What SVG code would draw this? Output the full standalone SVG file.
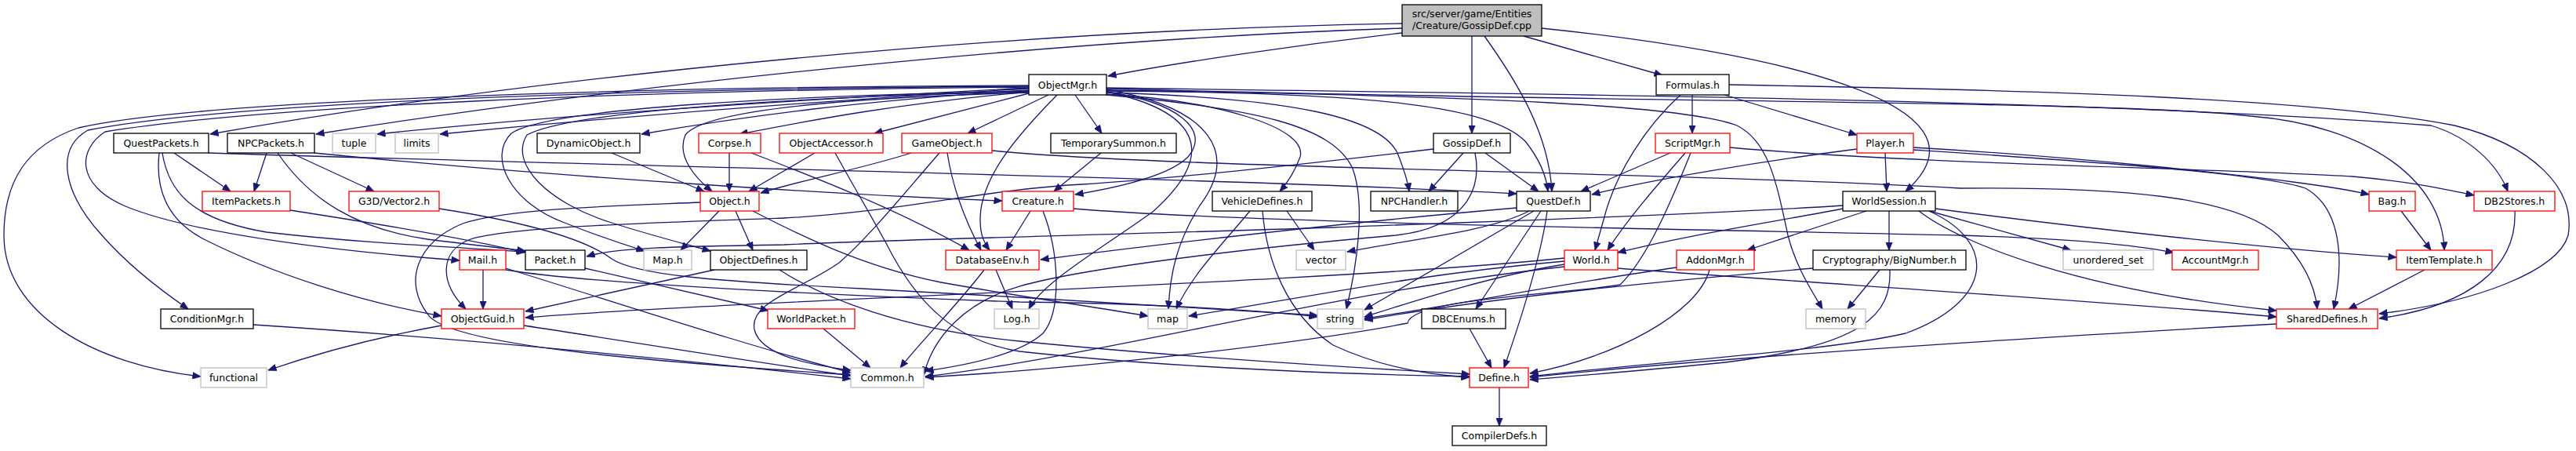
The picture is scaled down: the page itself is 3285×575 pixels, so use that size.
<svg xmlns="http://www.w3.org/2000/svg" width="3285" height="575" viewBox="0 0 3285 575">
<style>
.n rect{fill:#fff;stroke:#000;stroke-width:1.3}
.n.r rect{stroke:#ff0000}
.n.g rect{stroke:#bfbfbf}
.n.root rect{fill:#bfbfbf}
text{font-family:"DejaVu Sans","Liberation Sans",sans-serif;font-size:12.5px;text-anchor:middle;fill:#000}
#edges path{fill:none;stroke:#191970;stroke-width:1.3;marker-end:url(#a)}
</style>
<defs>
<marker id="a" viewBox="0 0 11 9" refX="10.5" refY="4.5" markerWidth="11" markerHeight="9" markerUnits="userSpaceOnUse" orient="auto">
<path d="M0,0L11,4.5L0,9z" fill="#191970" stroke="#191970" stroke-width="0.5"/>
</marker>
</defs>
<rect width="3285" height="575" fill="#fff"/>
<g id="edges">
<path d="M1788,42 C1650,58 1500,80 1413,97"/>
<path d="M1788,30 C1300,38 700,95 268,171"/>
<path d="M1788,36 C1350,50 800,108 403,171"/>
<path d="M1877,46 L1877,170"/>
<path d="M1893,46 C1935,105 1975,170 1979,244"/>
<path d="M1943,46 L2120,96"/>
<path d="M1966,36 C2250,65 2560,130 2430,244"/>
<path d="M1312,112 C1000,128 700,148 481,171"/>
<path d="M1312,113 C1050,128 800,148 561,171"/>
<path d="M1312,115 C1100,128 950,148 818,171"/>
<path d="M1312,117 C1150,132 1050,150 943,171"/>
<path d="M1312,119 L1115,170"/>
<path d="M1337,121 L1234,170"/>
<path d="M1371,121 L1405,170"/>
<path d="M1312,109 C800,111 250,128 100,163 C35,185 5,230 5,300 C5,400 120,465 256,480"/>
<path d="M1312,110 C800,113 300,130 112,166 C70,190 80,245 130,300 C165,340 205,370 240,394"/>
<path d="M1312,111 C800,115 330,136 134,168 C100,190 95,235 160,263 C250,300 450,322 586,332"/>
<path d="M1312,118 C1100,124 900,138 874,172 C862,200 888,228 908,244"/>
<path d="M1312,116 C1000,122 700,138 652,170 C622,200 650,258 720,284 C760,300 790,310 822,320"/>
<path d="M1312,117 C1000,124 730,142 672,172 C648,210 702,260 780,284 C830,300 870,310 906,320"/>
<path d="M1411,117 C1500,130 1545,165 1515,200 C1490,225 1420,240 1371,248"/>
<path d="M1348,121 C1290,180 1250,230 1250,280 C1250,300 1255,310 1262,319"/>
<path d="M1411,117 C1520,140 1560,190 1470,270 C1400,320 1330,360 1312,394"/>
<path d="M1411,114 C1545,138 1580,195 1530,262 C1500,310 1492,350 1490,394"/>
<path d="M1411,121 C1600,138 1700,160 1725,215 C1742,262 1730,340 1717,394"/>
<path d="M1411,120 C1550,128 1668,162 1658,200 C1650,222 1640,235 1632,244"/>
<path d="M1411,118 C1650,125 1760,150 1782,195 C1790,215 1795,230 1797,244"/>
<path d="M1411,116 C1750,118 1900,135 1945,180 C1965,205 1972,225 1974,244"/>
<path d="M1411,115 C1900,122 2150,135 2215,160 C2255,180 2265,230 2280,300 C2290,340 2310,370 2324,394"/>
<path d="M1411,113 C2100,132 2700,128 2870,148 C3020,160 3115,230 3117,319"/>
<path d="M1411,112 C2000,120 2700,128 3100,160 C3150,175 3185,210 3198,244"/>
<path d="M2158,121 L2158,170"/>
<path d="M2199,121 L2368,172"/>
<path d="M2143,121 C2100,160 2060,220 2045,280 L2034,319"/>
<path d="M2205,108 C2600,115 2950,125 3130,160 C3230,185 3285,240 3275,300 C3262,345 3160,385 3034,400"/>
<path d="M2130,195 L2016,244"/>
<path d="M2149,195 C2110,240 2075,280 2050,319"/>
<path d="M2156,195 C2130,260 2100,330 2066,363 C2000,375 1800,380 1795,412 C1650,440 1350,472 1180,481"/>
<path d="M2206,188 C2450,210 2850,215 3000,225 C3080,232 3120,242 3155,249"/>
<path d="M2404,195 L2406,244"/>
<path d="M2368,190 C2250,205 2100,230 2030,248"/>
<path d="M2440,188 C2650,200 2850,222 2924,232 C2970,238 3000,243 3021,248"/>
<path d="M2440,191 C2650,205 2880,220 2940,240 C2985,265 2990,330 2976,394"/>
<path d="M2409,269 L2409,319"/>
<path d="M2380,269 L2228,319"/>
<path d="M2350,266 C2250,285 2150,300 2063,322"/>
<path d="M2460,269 L2641,319"/>
<path d="M2468,266 C2650,290 2900,318 3056,328"/>
<path d="M2447,269 C2500,310 2650,370 2903,396"/>
<path d="M2350,262 C2150,275 1900,282 1700,290 C1400,300 1150,305 1000,312 C900,314 790,314 748,327"/>
<path d="M2460,269 C2550,310 2540,385 2430,425 C2330,448 2100,462 1951,480"/>
<path d="M1995,333 C1800,350 1650,382 1516,403"/>
<path d="M1995,337 C1900,352 1800,385 1740,404"/>
<path d="M1995,329 C1700,360 900,385 670,405"/>
<path d="M1995,340 C1700,372 1400,455 1180,480"/>
<path d="M2063,342 C2300,360 2700,385 2903,404"/>
<path d="M2138,341 C2000,360 1850,390 1740,406"/>
<path d="M2180,344 C2165,400 2060,455 1951,476"/>
<path d="M2397,344 L2356,394"/>
<path d="M2410,344 C2412,400 2380,440 2200,462 C2100,472 2000,480 1951,484"/>
<path d="M2312,342 C2100,360 1900,380 1740,408"/>
<path d="M1934,265 C1700,285 1450,315 1327,331"/>
<path d="M1950,269 C1900,295 1800,305 1718,321"/>
<path d="M1956,269 L1740,395"/>
<path d="M1965,269 L1882,394"/>
<path d="M1973,269 C1965,330 1935,420 1918,469"/>
<path d="M1866,195 L1822,244"/>
<path d="M1894,195 L1962,244"/>
<path d="M1828,190 C1700,205 1500,228 1380,235 C1250,242 1150,270 1000,278 C800,285 650,290 600,305 C560,320 560,360 594,394"/>
<path d="M1881,195 C1890,240 1870,290 1780,300 C1550,320 1370,345 1300,365 C1230,385 1190,430 1178,478"/>
<path d="M930,195 L930,244"/>
<path d="M958,195 C1050,230 1150,270 1236,319"/>
<path d="M1039,195 L955,244"/>
<path d="M1065,195 C1090,240 1105,265 1130,310 C1170,390 1220,435 1300,448 C1500,470 1750,478 1874,480"/>
<path d="M780,195 L898,244"/>
<path d="M1162,195 C1100,215 1020,230 970,246"/>
<path d="M1208,195 C1215,240 1230,280 1251,319"/>
<path d="M1198,195 C1150,250 1110,300 1070,335 C1020,370 955,385 962,420 C970,455 1040,466 1085,472"/>
<path d="M1265,192 C1500,215 2100,218 2500,240 C2700,238 2850,250 2905,300 C2935,330 2952,360 2955,394"/>
<path d="M1404,195 L1344,244"/>
<path d="M1594,269 C1560,310 1520,350 1500,394"/>
<path d="M1641,269 L1676,319"/>
<path d="M1610,269 C1615,330 1640,400 1700,440 C1760,468 1820,478 1874,481"/>
<path d="M1314,269 L1283,319"/>
<path d="M1330,269 C1350,320 1355,395 1330,425 C1300,452 1230,466 1180,473"/>
<path d="M1369,266 C1600,285 2200,293 2500,300 C2650,305 2720,312 2772,322"/>
<path d="M616,344 L616,394"/>
<path d="M645,342 C800,390 950,440 1085,475"/>
<path d="M645,344 C750,362 1100,378 1300,385 C1450,386 1600,395 1680,404"/>
<path d="M746,342 L980,396"/>
<path d="M911,344 L670,397"/>
<path d="M994,344 C1050,380 1150,420 1300,435 C1500,455 1750,470 1874,477"/>
<path d="M668,415 C800,435 950,460 1085,479"/>
<path d="M563,415 C480,430 400,452 342,472"/>
<path d="M323,414 C600,432 900,462 1085,483"/>
<path d="M1050,419 L1110,469"/>
<path d="M1270,344 L1291,394"/>
<path d="M1255,344 C1220,390 1170,440 1148,469"/>
<path d="M917,269 L868,319"/>
<path d="M938,269 L960,319"/>
<path d="M893,258 C800,262 650,265 590,285 C530,310 515,360 545,400 C570,445 900,465 1085,478"/>
<path d="M960,269 C1020,300 1100,340 1200,360 C1300,378 1400,392 1464,403"/>
<path d="M560,266 C650,280 740,300 780,330 C810,350 900,358 1100,368 C1300,378 1550,395 1680,402"/>
<path d="M222,195 L294,244"/>
<path d="M207,195 C215,245 245,280 340,296 C460,310 580,315 670,321"/>
<path d="M203,195 C198,240 212,280 260,305 C350,350 460,385 563,403"/>
<path d="M266,195 C800,212 1600,228 1934,247"/>
<path d="M340,195 L324,244"/>
<path d="M371,195 L477,244"/>
<path d="M354,195 C395,255 455,292 545,305 C600,312 640,316 670,320"/>
<path d="M401,195 C700,225 1100,250 1278,256"/>
<path d="M370,268 C480,285 600,305 669,322"/>
<path d="M1874,419 L1902,469"/>
<path d="M1912,494 L1912,543"/>
<path d="M2903,413 C2600,430 2200,455 1951,481"/>
<path d="M3092,344 L2995,394"/>
<path d="M3062,269 L3100,319"/>
<path d="M3207,269 C3210,340 3150,390 3034,406"/>
</g>
<g id="n_root" class="n root"><rect x="1788" y="6" width="178" height="40"/><text x="1877" y="22">src/server/game/Entities</text><text x="1877" y="37">/Creature/GossipDef.cpp</text></g>
<g id="n_ObjectMgr" class="n"><rect x="1312" y="95" width="99" height="26"/><text x="1361.5" y="112.5">ObjectMgr.h</text></g>
<g id="n_Formulas" class="n"><rect x="2112" y="95" width="93" height="26"/><text x="2158.5" y="112.5">Formulas.h</text></g>
<g id="n_QuestPackets" class="n"><rect x="145" y="170" width="121" height="25"/><text x="205.5" y="187">QuestPackets.h</text></g>
<g id="n_NPCPackets" class="n"><rect x="290" y="170" width="111" height="25"/><text x="345.5" y="187">NPCPackets.h</text></g>
<g id="n_tuple" class="n g"><rect x="424" y="170" width="55" height="25"/><text x="451.5" y="187">tuple</text></g>
<g id="n_limits" class="n g"><rect x="504" y="170" width="55" height="25"/><text x="531.5" y="187">limits</text></g>
<g id="n_DynamicObject" class="n"><rect x="685" y="170" width="131" height="25"/><text x="750.5" y="187">DynamicObject.h</text></g>
<g id="n_Corpse" class="n r"><rect x="891" y="170" width="79" height="25"/><text x="930.5" y="187">Corpse.h</text></g>
<g id="n_ObjectAccessor" class="n r"><rect x="994" y="170" width="132" height="25"/><text x="1060" y="187">ObjectAccessor.h</text></g>
<g id="n_GameObject" class="n r"><rect x="1150" y="170" width="115" height="25"/><text x="1207.5" y="187">GameObject.h</text></g>
<g id="n_TemporarySummon" class="n"><rect x="1340" y="170" width="160" height="25"/><text x="1420" y="187">TemporarySummon.h</text></g>
<g id="n_GossipDef" class="n"><rect x="1828" y="170" width="98" height="25"/><text x="1877" y="187">GossipDef.h</text></g>
<g id="n_ScriptMgr" class="n r"><rect x="2111" y="170" width="95" height="25"/><text x="2158.5" y="187">ScriptMgr.h</text></g>
<g id="n_Player" class="n r"><rect x="2368" y="170" width="72" height="25"/><text x="2404" y="187">Player.h</text></g>
<g id="n_ItemPackets" class="n r"><rect x="258" y="244" width="112" height="25"/><text x="314" y="261">ItemPackets.h</text></g>
<g id="n_Vector2" class="n r"><rect x="445" y="244" width="115" height="25"/><text x="502.5" y="261">G3D/Vector2.h</text></g>
<g id="n_Object" class="n r"><rect x="893" y="244" width="75" height="25"/><text x="930.5" y="261">Object.h</text></g>
<g id="n_Creature" class="n r"><rect x="1278" y="244" width="91" height="25"/><text x="1323.5" y="261">Creature.h</text></g>
<g id="n_VehicleDefines" class="n"><rect x="1546" y="244" width="127" height="25"/><text x="1609.5" y="261">VehicleDefines.h</text></g>
<g id="n_NPCHandler" class="n"><rect x="1748" y="244" width="111" height="25"/><text x="1803.5" y="261">NPCHandler.h</text></g>
<g id="n_QuestDef" class="n"><rect x="1934" y="244" width="94" height="25"/><text x="1981" y="261">QuestDef.h</text></g>
<g id="n_WorldSession" class="n"><rect x="2350" y="244" width="118" height="25"/><text x="2409" y="261">WorldSession.h</text></g>
<g id="n_Bag" class="n r"><rect x="3021" y="244" width="59" height="25"/><text x="3050.5" y="261">Bag.h</text></g>
<g id="n_DB2Stores" class="n r"><rect x="3155" y="244" width="103" height="25"/><text x="3206.5" y="261">DB2Stores.h</text></g>
<g id="n_Mail" class="n r"><rect x="586" y="319" width="59" height="25"/><text x="615.5" y="336">Mail.h</text></g>
<g id="n_Packet" class="n"><rect x="670" y="319" width="76" height="25"/><text x="708" y="336">Packet.h</text></g>
<g id="n_Map" class="n g"><rect x="821" y="319" width="61" height="25"/><text x="851.5" y="336">Map.h</text></g>
<g id="n_ObjectDefines" class="n"><rect x="906" y="319" width="123" height="25"/><text x="967.5" y="336">ObjectDefines.h</text></g>
<g id="n_DatabaseEnv" class="n r"><rect x="1206" y="319" width="119" height="25"/><text x="1265.5" y="336">DatabaseEnv.h</text></g>
<g id="n_vector" class="n g"><rect x="1653" y="319" width="63" height="25"/><text x="1684.5" y="336">vector</text></g>
<g id="n_World" class="n r"><rect x="1995" y="319" width="68" height="25"/><text x="2029" y="336">World.h</text></g>
<g id="n_AddonMgr" class="n r"><rect x="2138" y="319" width="99" height="25"/><text x="2187.5" y="336">AddonMgr.h</text></g>
<g id="n_BigNumber" class="n"><rect x="2312" y="319" width="195" height="25"/><text x="2409.5" y="336">Cryptography/BigNumber.h</text></g>
<g id="n_unordered_set" class="n g"><rect x="2631" y="319" width="115" height="25"/><text x="2688.5" y="336">unordered_set</text></g>
<g id="n_AccountMgr" class="n r"><rect x="2770" y="319" width="110" height="25"/><text x="2825" y="336">AccountMgr.h</text></g>
<g id="n_ItemTemplate" class="n r"><rect x="3056" y="319" width="122" height="25"/><text x="3117" y="336">ItemTemplate.h</text></g>
<g id="n_ConditionMgr" class="n"><rect x="205" y="394" width="118" height="25"/><text x="264" y="411">ConditionMgr.h</text></g>
<g id="n_ObjectGuid" class="n r"><rect x="563" y="394" width="105" height="25"/><text x="615.5" y="411">ObjectGuid.h</text></g>
<g id="n_WorldPacket" class="n r"><rect x="979" y="394" width="111" height="25"/><text x="1034.5" y="411">WorldPacket.h</text></g>
<g id="n_Log" class="n g"><rect x="1268" y="394" width="57" height="25"/><text x="1296.5" y="411">Log.h</text></g>
<g id="n_map" class="n g"><rect x="1464" y="394" width="50" height="25"/><text x="1489" y="411">map</text></g>
<g id="n_string" class="n g"><rect x="1680" y="394" width="58" height="25"/><text x="1709" y="411">string</text></g>
<g id="n_DBCEnums" class="n"><rect x="1813" y="394" width="107" height="25"/><text x="1866.5" y="411">DBCEnums.h</text></g>
<g id="n_memory" class="n g"><rect x="2303" y="394" width="76" height="25"/><text x="2341" y="411">memory</text></g>
<g id="n_SharedDefines" class="n r"><rect x="2903" y="394" width="129" height="25"/><text x="2967.5" y="411">SharedDefines.h</text></g>
<g id="n_functional" class="n g"><rect x="256" y="469" width="84" height="25"/><text x="298" y="486">functional</text></g>
<g id="n_Common" class="n g"><rect x="1085" y="469" width="93" height="25"/><text x="1131.5" y="486">Common.h</text></g>
<g id="n_Define" class="n r"><rect x="1874" y="469" width="75" height="25"/><text x="1911.5" y="486">Define.h</text></g>
<g id="n_CompilerDefs" class="n"><rect x="1852" y="543" width="120" height="25"/><text x="1912" y="560">CompilerDefs.h</text></g>
</svg>
